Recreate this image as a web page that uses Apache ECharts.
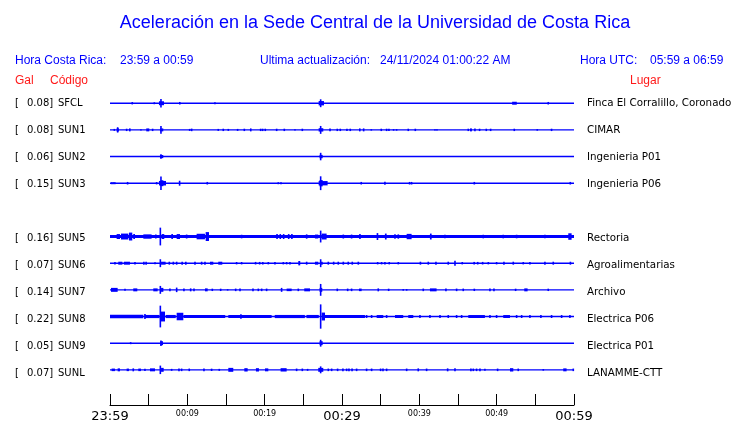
<!DOCTYPE html>
<html><head><meta charset="utf-8">
<script src="https://cdn.jsdelivr.net/npm/echarts@6/dist/echarts.min.js"></script>
<style>html,body{margin:0;padding:0;background:#fff}#c{width:740px;height:423px}</style>
</head><body><div id="c"></div>
<script>
// ---------- data ----------
const codes = ['SFCL','SUN1','SUN2','SUN3','SUN5','SUN6','SUN7','SUN8','SUN9','SUNL'];
const gal = ['0.08','0.08','0.06','0.15','0.16','0.07','0.14','0.22','0.05','0.07'];
const lugares = ['Finca El Corralillo, Coronado','CIMAR','Ingenieria P01','Ingenieria P06','Rectoria','Agroalimentarias','Archivo','Electrica P06','Electrica P01','LANAMME-CTT'];
const slots = [0,1,2,3,5,6,7,8,9,10];
const tickLabels = {0:'23:59',10:'00:09',20:'00:19',30:'00:29',40:'00:39',50:'00:49',60:'00:59'};
const bigTicks = [0,30,60];

// events per station: [start minute, end minute, half amplitude]
const evSFCL = [[2.88,2.88,1.2],[5.73,5.73,1],[6.33,6.98,2],[6.59,6.59,4.2],[8.95,9.1,1.3],[13.57,13.57,1],[26.98,27.67,2.2],[27.24,27.24,4],[52.0,52.6,1.5],[56.67,56.67,1.3]];
const evSUN1 = [[0.56,0.56,1],[0.86,1.16,1.6],[0.99,0.99,2.7],[2.15,2.15,1.2],[2.45,2.67,1.5],[4.0,4.0,0.7],[4.69,5.08,1.5],[5.51,5.51,1.2],[6.46,6.89,1.5],[6.59,6.59,4],[10.3,10.3,1],[10.56,10.56,1.3],[14.0,14.0,1],[14.65,14.65,1.2],[15.3,15.3,1],[16.5,16.5,1],[17.37,17.37,1.2],[18.1,18.3,1.5],[19.48,19.48,1.2],[19.74,19.74,1.2],[20.08,20.08,1.2],[21.55,21.55,1.2],[22.54,22.54,1.2],[23.92,23.92,0.7],[24.87,24.87,1.2],[26.98,27.58,1.7],[27.24,27.24,4],[28.35,28.55,1.5],[29.39,29.39,1.2],[29.78,29.78,1.2],[30.64,30.64,1.2],[31.07,31.07,1.2],[32.2,32.4,1.5],[32.7,32.9,1.5],[33.79,33.79,0.7],[35.08,35.08,1.2],[35.77,35.77,1.2],[36.07,36.07,1.2],[36.67,36.67,0.8],[37.06,37.06,0.8],[38.57,38.57,1.2],[39.48,39.48,1.2],[42.02,42.02,0.7],[42.28,42.28,0.7],[46.33,46.33,1.2],[46.55,46.8,1.5],[47.19,47.19,1.5],[47.79,47.79,1.2],[48.66,48.66,1.2],[49.22,49.22,1.2],[52.28,52.28,1.2],[55.25,55.25,0.8],[57.1,57.1,1.2]];
const evSUN2 = [[6.46,6.89,1.6],[6.59,6.59,2.3],[27.1,27.5,1.7],[27.24,27.24,3.8]];
const evSUN3 = [[0.21,0.21,1],[0.3,0.73,1],[2.2,2.35,1.3],[6.03,6.03,1.2],[6.33,7.24,2.3],[6.55,6.9,3],[6.59,6.59,6.8],[8.95,9.05,2.5],[12.58,12.58,1.3],[21.76,21.76,1],[22.11,22.11,1],[26.98,28.14,2.2],[27.1,27.5,3.2],[27.24,27.24,7],[32.49,32.49,1.3],[35.45,35.65,1.5],[38.74,38.74,1.3],[39.0,39.0,1.3],[47.11,47.11,1.3],[59.52,59.52,1.3]];
const evSUN5 = [[0,60,1.6],[0.86,1.29,2.5],[1.42,2.37,3],[2.45,2.88,4],[3.01,3.23,2.5],[4.31,5.38,2.2],[5.82,6.03,2],[6.51,6.51,9],[6.68,7.02,2.5],[7.97,8.1,2.5],[8.62,9.05,2.5],[9.91,9.91,2],[11.2,12.28,2.8],[12.37,12.8,4.5],[17.02,17.02,1.8],[21.55,21.65,2.5],[21.98,22.06,2.5],[22.41,22.5,2.5],[23.06,23.15,2.5],[23.49,23.55,2.5],[25.43,25.43,2.2],[26.5,26.93,2],[27.24,27.24,6],[27.37,28.01,3],[30.17,30.17,2],[31.24,31.24,2],[32.32,32.32,2.5],[34.48,34.69,3.5],[35.55,35.77,3],[36.85,36.85,2.2],[37.28,37.28,2.2],[38.36,39.0,2.7],[41.37,41.59,3],[43.31,43.31,1.8],[48.27,48.27,1.8],[50.85,50.85,1.8],[52.58,52.58,1.8],[56.24,56.24,1.8],[59.26,59.69,3.3]];
const evSUN6 = [[0.64,0.64,1.2],[1.07,1.6,1.5],[1.8,2.58,1.5],[3.23,3.23,1.2],[4.31,4.45,1.5],[4.6,4.74,1.5],[5.82,5.82,1],[6.51,6.51,4],[6.6,7.19,1.5],[7.67,7.67,1.5],[8.19,8.19,1.5],[8.62,8.62,1.5],[9.26,9.4,1.5],[9.7,9.91,1.5],[10.99,10.99,1.5],[11.85,11.85,1.5],[12.28,12.28,1.5],[12.93,13.36,1.5],[14.0,14.52,1.5],[16.37,16.37,1.2],[17.02,17.02,1.2],[18.75,18.9,1.3],[19.3,19.4,1.3],[19.7,19.82,1.3],[20.47,20.47,1.2],[21.33,21.33,1.2],[22.41,22.41,1.2],[22.84,22.84,1.2],[23.27,23.27,1.2],[24.35,24.6,2.2],[25.43,25.43,1.5],[26.5,26.93,1.5],[27.24,27.24,4],[27.3,27.5,1.5],[28.23,28.23,1.5],[28.92,28.92,1.5],[29.52,29.52,1.5],[30.17,30.17,1.5],[30.81,30.81,1.5],[31.33,31.33,1.5],[32.11,32.11,1.5],[34.61,34.61,1.2],[35.12,35.12,1.2],[35.55,35.55,1.2],[36.11,36.11,1.2],[37.28,37.28,1.2],[40.08,40.2,1.5],[41.16,41.16,1.5],[42.15,42.15,1.5],[43.74,43.74,1.5],[44.61,44.61,2.5],[45.55,45.55,1.2],[46.98,47.2,1.3],[47.5,47.6,1.3],[48.1,48.27,1.3],[48.92,48.92,1.2],[49.99,49.99,1.2],[50.94,50.94,1.5],[52.15,52.15,1.5],[53.44,53.44,1.2],[54.3,54.3,1.2],[56.24,56.24,1.5],[57.32,57.32,1.5],[59.47,59.6,1.5]];
const evSUN7 = [[0.13,0.99,2],[1.94,1.94,1],[3.01,3.53,1.5],[5.6,6.16,1.5],[6.51,6.51,4],[6.6,6.9,2],[7.75,7.75,1.5],[8.62,8.62,2.3],[9.56,9.56,1.5],[10.43,10.43,1.5],[10.86,10.86,1.5],[12.28,12.63,1.5],[13.23,13.23,1.2],[14.31,14.31,1.2],[15.21,15.21,0.7],[16.25,16.25,1.3],[16.81,16.81,1.3],[18.49,18.49,1.3],[19.18,19.18,1.3],[19.61,19.61,1.3],[20.25,20.25,1.3],[22.19,22.19,2],[22.84,23.49,1.3],[24.35,24.35,1.3],[25.12,25.86,1.5],[27.24,27.24,6],[27.1,27.45,2],[29.39,29.39,1.3],[30.73,30.73,1.3],[31.24,31.24,1.3],[32.19,32.54,1.3],[34.69,34.69,1.5],[36.03,36.03,1.2],[37.92,37.92,0.8],[38.36,38.36,0.8],[40.51,40.51,1.3],[41.37,42.23,1.5],[43.44,43.44,1.5],[44.82,44.82,1.3],[45.68,45.68,1.3],[47.11,47.11,1.2],[49.13,49.13,1.3],[49.65,49.65,1.3],[52.45,52.45,1.2],[53.57,54.0,1.5],[56.67,56.67,1.2]];
const evSUN8 = [[0,4.3,1.8],[4.5,6.4,1.6],[4.52,4.52,2.5],[6.51,6.51,11],[6.59,7.11,5],[7.2,8.5,1.6],[8.62,9.48,3.8],[9.5,14.9,1.6],[15.3,20.9,1.6],[16.93,16.93,2.2],[21.3,25.2,1.6],[25.4,27.0,1.6],[27.24,27.24,12.3],[27.37,27.8,4],[27.8,32.97,1.6],[33.18,33.18,1.5],[33.83,33.83,1.5],[34.48,35.34,1.5],[35.77,35.77,1.5],[36.85,37.92,1.5],[38.57,39.22,1.5],[40.08,40.08,1.5],[41.37,41.37,1.5],[42.67,42.67,1.5],[43.74,43.74,1.5],[44.82,44.82,1.5],[45.47,45.47,1.5],[46.33,48.48,1.5],[49.13,49.13,1.5],[49.99,49.99,1.5],[50.85,51.72,1.5],[52.58,52.58,1.5],[53.23,53.23,1.5],[54.3,54.3,1.5],[55.72,55.72,1.5],[57.1,57.1,1.5],[58.4,58.4,1.5],[59.47,59.47,1.5]];
const evSUN9 = [[2.67,2.67,1],[6.5,6.85,2],[6.59,6.59,2.8],[27.1,27.5,2],[27.24,27.24,3.5]];
const evSUNL = [[0.21,0.64,1.3],[0.99,1.29,1.5],[2.15,2.45,1.3],[3.01,3.01,1.5],[3.66,4.0,1.3],[4.52,4.52,1.2],[5.17,5.82,1.5],[6.51,6.51,4.3],[6.6,6.94,2],[7.97,7.97,1],[8.92,8.92,1.3],[9.26,9.26,1.3],[10.25,10.25,1.3],[12.15,12.15,1.3],[13.14,13.14,1.2],[14.13,14.13,1],[15.3,15.94,2],[17.37,17.8,1.7],[18.87,19.26,1.7],[20.04,20.47,1.5],[22.06,22.84,1.7],[24.13,24.13,1.3],[24.87,24.87,1.3],[25.55,25.55,1],[26.93,27.58,2],[27.24,27.24,3.5],[28.23,28.23,1.3],[28.66,28.66,1.3],[29.43,29.43,1.3],[30.12,30.12,1.3],[30.6,30.6,1.3],[30.9,30.9,1.3],[31.3,31.3,1.3],[31.89,31.89,1.3],[33.18,33.18,1.3],[33.83,33.83,1.3],[34.99,34.99,1.3],[35.3,35.3,1.3],[35.77,35.77,1.3],[38.36,38.36,1.3],[39.86,39.86,1.5],[40.94,40.94,1.3],[43.66,43.66,1.5],[44.61,44.61,1.5],[46.67,46.67,1.3],[46.98,46.98,1.3],[47.4,47.4,1.3],[47.84,47.84,1.3],[48.48,48.48,1],[50.12,50.12,1.3],[51.72,52.15,1.7],[52.79,52.79,1.3],[56.03,56.03,0.8],[58.61,59.04,1.5],[59.91,59.91,1.3]];
const events = [evSFCL,evSUN1,evSUN2,evSUN3,evSUN5,evSUN6,evSUN7,evSUN8,evSUN9,evSUNL];

// ---------- layout ----------
const GRID_TOP = 90, ROW0 = 13.4, ROWSTEP = 27;
const BLUE = '#0000ff', RED = '#ff1a1a';
const center = i => ROW0 + ROWSTEP * slots[i];

const series = [];
codes.forEach((c, i) => {
  series.push({type:'line', silent:true, symbol:'none', animation:false,
    data:[[0, center(i)], [60, center(i)]],
    lineStyle:{color:BLUE, width:1.4}, z:2});
});
const burstData = [];
events.forEach((ev, i) => ev.forEach(e => burstData.push([e[0], e[1], center(i), e[2]])));
series.push({type:'custom', silent:true, animation:false, z:3,
  encode:{x:[0,1], y:2},
  data: burstData,
  renderItem: (params, api) => {
    const t0 = api.value(0), t1 = api.value(1), c = api.value(2), a = api.value(3);
    const p0 = api.coord([t0, c - a]);
    const p1 = api.coord([t1, c + a]);
    let x = Math.min(p0[0], p1[0]), w = Math.abs(p1[0] - p0[0]);
    if (w < 1.6) { x = (p0[0] + p1[0]) / 2 - 0.8; w = 1.6; }
    const y = Math.min(p0[1], p1[1]), h = Math.abs(p1[1] - p0[1]);
    return {type:'rect', shape:{x, y, width:w, height:h}, style:{fill:BLUE}};
  }
});

const graphics = [];
const txt = (x, y, text, opt) => graphics.push({type:'text', x, y, silent:true,
  style:Object.assign({text, fill:'#000', font:'10px "DejaVu Sans"', textVerticalAlign:'middle'}, opt)});
txt(375, 23.5, 'Aceleración en la Sede Central de la Universidad de Costa Rica', {fill:BLUE, font:'18px "Liberation Sans"', textAlign:'center'});
txt(15, 61, 'Hora Costa Rica:', {fill:BLUE, font:'12px "Liberation Sans"'});
txt(120, 61, '23:59 a 00:59', {fill:BLUE, font:'12px "Liberation Sans"'});
txt(260, 61, 'Ultima actualización:', {fill:BLUE, font:'12px "Liberation Sans"'});
txt(380, 61, '24/11/2024 01:00:22 AM', {fill:BLUE, font:'12px "Liberation Sans"'});
txt(580, 61, 'Hora UTC:', {fill:BLUE, font:'12px "Liberation Sans"'});
txt(650, 61, '05:59 a 06:59', {fill:BLUE, font:'12px "Liberation Sans"'});
txt(15, 81, 'Gal', {fill:RED, font:'12px "Liberation Sans"'});
txt(50, 81, 'Código', {fill:RED, font:'12px "Liberation Sans"'});
txt(630, 81, 'Lugar', {fill:RED, font:'12px "Liberation Sans"'});
codes.forEach((c, i) => {
  const y = GRID_TOP + center(i) + 0.4;
  txt(15, y, '[');
  txt(27, y, gal[i] + ']');
  txt(58, y, c);
  txt(587, y, lugares[i], {font:'10.3px "DejaVu Sans"'});
});

const chart = echarts.init(document.getElementById('c'), null, {renderer:'canvas'});
chart.setOption({
  backgroundColor:'#fff',
  animation:false,
  grid:{left:110, right:166, top:GRID_TOP, bottom:14, containLabel:false},
  xAxis:{type:'value', min:0, max:60, interval:5, position:'bottom',
    axisLine:{show:true, onZero:false, lineStyle:{color:'#000', width:1}},
    axisTick:{show:true, inside:true, length:11, lineStyle:{color:'#000', width:1}},
    splitLine:{show:false},
    axisLabel:{margin:4, showMinLabel:true, showMaxLabel:true, hideOverlap:false,
      formatter: v => { const s = tickLabels[v]; if (!s) return ''; return bigTicks.includes(v) ? '{b|' + s + '}' : '{s|' + s + '}'; },
      rich:{b:{fontSize:13, fontFamily:'DejaVu Sans', color:'#000', lineHeight:15},
            s:{fontSize:8, fontFamily:'DejaVu Sans', color:'#000', lineHeight:9}}}
  },
  yAxis:{type:'value', min:0, max:319, inverse:true, show:false},
  series,
  graphic:graphics
});
</script></body></html>
